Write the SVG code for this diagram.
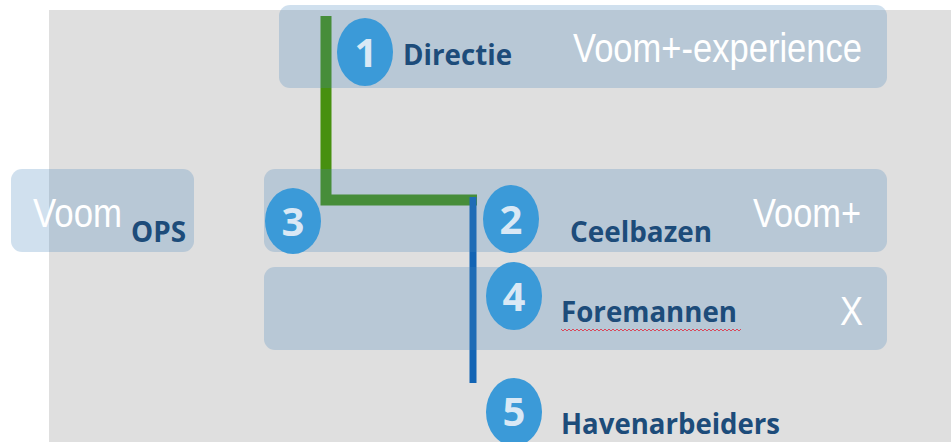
<svg xmlns="http://www.w3.org/2000/svg" width="951" height="442" viewBox="0 0 951 442">
<style>
.box{fill:#4383bb;fill-opacity:0.25}
.num{fill:#3b9ad8}
.dig{font-family:"Open Sans","DejaVu Sans",sans-serif;font-weight:bold;font-size:40px;fill:#d9e8f5;text-anchor:middle}
.lbl{font-family:"Open Sans","DejaVu Sans",sans-serif;font-weight:bold;font-size:28px;fill:#1d4c7a}
.wt{font-family:"Liberation Sans",Arial,sans-serif;font-size:41px;fill:#ffffff}
</style>
<rect x="49" y="10" width="902" height="432" fill="#dfdfdf"/>
<g id="connectors">
<path d="M326 16 V200 H477" fill="none" stroke="#47900f" stroke-width="11"/>
<path d="M473 197 V383" fill="none" stroke="#1264b4" stroke-width="7"/>
</g>
<g id="node-voomops">
<rect class="box" x="11" y="169" width="183" height="83" rx="11"/>
<text class="wt" x="33" y="227" textLength="89" lengthAdjust="spacingAndGlyphs">Voom</text>
<text class="lbl" x="131" y="242" textLength="55" lengthAdjust="spacingAndGlyphs">OPS</text>
</g>
<g id="node-directie">
<rect class="box" x="279" y="5" width="608" height="83" rx="11"/>
<ellipse class="num" cx="365" cy="52" rx="28" ry="34"/>
<text class="dig" x="366" y="67">1</text>
<text class="lbl" x="403" y="65" textLength="109" lengthAdjust="spacingAndGlyphs">Directie</text>
<text class="wt" x="573" y="62" textLength="289" lengthAdjust="spacingAndGlyphs">Voom+-experience</text>
</g>
<g id="node-ceelbazen">
<rect class="box" x="264" y="169" width="623" height="83" rx="11"/>
<ellipse class="num" cx="293" cy="221" rx="28" ry="33"/>
<text class="dig" x="293" y="236">3</text>
<ellipse class="num" cx="511" cy="219" rx="28" ry="34"/>
<text class="dig" x="511" y="234">2</text>
<text class="lbl" x="570" y="242" textLength="142" lengthAdjust="spacingAndGlyphs">Ceelbazen</text>
<text class="wt" x="753" y="227" textLength="108" lengthAdjust="spacingAndGlyphs">Voom+</text>
</g>
<g id="node-foremannen">
<rect class="box" x="264" y="267" width="623" height="83" rx="11"/>
<ellipse class="num" cx="514" cy="296" rx="28" ry="34"/>
<text class="dig" x="514" y="311">4</text>
<text class="lbl" x="561" y="322" textLength="176" lengthAdjust="spacingAndGlyphs">Foremannen</text>
<polyline points="561,329 563,331 565,329 567,331 569,329 571,331 573,329 575,331 577,329 579,331 581,329 583,331 585,329 587,331 589,329 591,331 593,329 595,331 597,329 599,331 601,329 603,331 605,329 607,331 609,329 611,331 613,329 615,331 617,329 619,331 621,329 623,331 625,329 627,331 629,329 631,331 633,329 635,331 637,329 639,331 641,329 643,331 645,329 647,331 649,329 651,331 653,329 655,331 657,329 659,331 661,329 663,331 665,329 667,331 669,329 671,331 673,329 675,331 677,329 679,331 681,329 683,331 685,329 687,331 689,329 691,331 693,329 695,331 697,329 699,331 701,329 703,331 705,329 707,331 709,329 711,331 713,329 715,331 717,329 719,331 721,329 723,331 725,329 727,331 729,329 731,331 733,329 735,331 737,329 739,331 741,329" fill="none" stroke="#d9475a" stroke-width="1"/>
<text class="wt" x="840" y="325" textLength="23" lengthAdjust="spacingAndGlyphs">X</text>
</g>
<g id="node-havenarbeiders">
<ellipse class="num" cx="514" cy="412" rx="28" ry="34"/>
<text class="dig" x="514" y="426">5</text>
<text class="lbl" x="561" y="434" textLength="219" lengthAdjust="spacingAndGlyphs">Havenarbeiders</text>
</g>
</svg>
